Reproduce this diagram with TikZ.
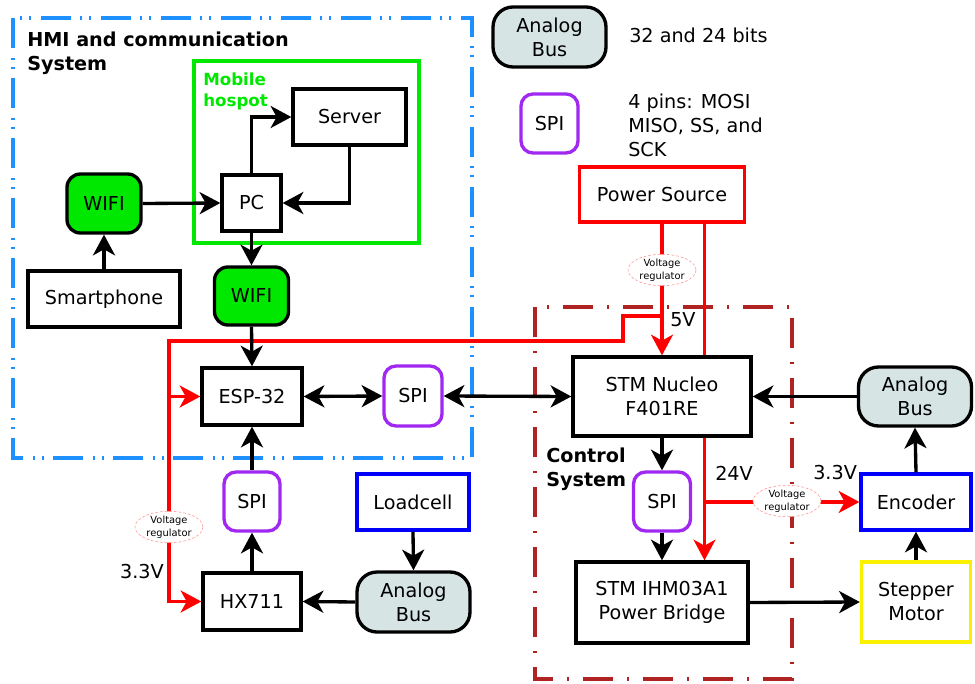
\documentclass[tikz,border=0pt]{standalone}
\usepackage{fontspec}
\setmainfont{DejaVu Sans}
\usetikzlibrary{arrows.meta,shapes.geometric,backgrounds}
\definecolor{hmiblue}{RGB}{30,144,255}
\definecolor{hotgreen}{RGB}{0,232,0}
\definecolor{ctrlred}{RGB}{175,35,35}
\definecolor{spipurple}{RGB}{160,40,240}
\definecolor{busfill}{RGB}{214,228,228}
\definecolor{regpink}{RGB}{255,140,140}
\definecolor{sensorblue}{RGB}{0,0,250}
\definecolor{motoryellow}{RGB}{250,240,0}
\begin{document}
\begin{tikzpicture}[x=0.75pt,y=-0.75pt,
	>={Stealth[length=15.5pt,width=16.5pt,inset=4.5pt]},
	every node/.style={font=\fontsize{14.4}{18}\selectfont},
	boxsize/.style 2 args={minimum width=#1*0.75pt,minimum height=#2*0.75pt},
	block/.style={draw,line width=2.5pt,fill=white,inner sep=0pt,align=center},
	bus/.style={block,fill=busfill,rounded corners=15pt},
	spi/.style={block,draw=spipurple,rounded corners=9pt},
	wifi/.style={block,fill=hotgreen,rounded corners=10pt},
	regulator/.style={ellipse,draw=regpink,dash pattern=on 2pt off 1.5pt,thin,fill=white,
		minimum width=51pt,minimum height=22pt,inner sep=0pt,align=center,
		font=\fontsize{7.4}{9.5}\selectfont},
	tag/.style={inner sep=0pt},
	title/.style={inner sep=0pt,anchor=north west,align=left,font=\fontsize{14.4}{18}\selectfont\bfseries},
	link/.style={->,line width=2.5pt},
	twoway/.style={<->,line width=2.5pt},
	supply/.style={->,red,line width=2.4pt},
	hmigroup/.style={hmiblue,line width=2.4pt,dash pattern=on 22.5pt off 7.5pt on 1.5pt off 5pt on 1.5pt off 7pt},
	hotspot/.style={hotgreen,line width=2.4pt},
	ctrlgroup/.style={ctrlred,line width=2.4pt,dash pattern=on 22.5pt off 10.5pt on 1.5pt off 10.5pt}]
	\useasboundingbox (0,0) rectangle (975,684);
	\node[title] (hmititle) at (27,31.5) {HMI and communication\\System};
	\node[title,hotgreen,font=\fontsize{12.5}{15.75}\selectfont\bfseries] (hotspottitle) at (203,72.5) {Mobile\\hospot};
	\node[title] (ctrltitle) at (546,448) {Control\\System};
	\node[bus,boxsize={113}{60}] (busleg) at (549.5,37) {Analog\\Bus};
	\node[spi,boxsize={57}{59}] (spileg) at (549.5,123.5) {SPI};
	\node[tag,anchor=west] (busnote) at (629,35) {32 and 24 bits};
	\node[tag,anchor=north west,align=left] (spinote) at (628,93.5) {4 pins: MOSI\\MISO, SS, and\\SCK};
	\node[block,boxsize={113}{56}] (server) at (349.5,117) {Server};
	\node[block,boxsize={59}{56}] (pc) at (251.5,203) {PC};
	\node[wifi,boxsize={74}{59}] (wifiA) at (104,203.5) {WIFI};
	\node[block,boxsize={152}{56}] (phone) at (104,299) {Smartphone};
	\node[wifi,boxsize={74}{58}] (wifiB) at (251.5,296) {WIFI};
	\node[block,boxsize={100}{57}] (esp) at (252,396.5) {ESP-32};
	\node[spi,boxsize={58}{60}] (spiA) at (413,396) {SPI};
	\node[spi,boxsize={56}{59}] (spiB) at (252,501.5) {SPI};
	\node[block,boxsize={98}{57}] (hx) at (252,601.5) {HX711};
	\node[block,draw=sensorblue,boxsize={112}{56}] (load) at (413,502) {Loadcell};
	\node[bus,boxsize={113}{60}] (busA) at (413.5,602) {Analog\\Bus};
	\node[block,draw=red,boxsize={165}{55}] (power) at (662,194.5) {Power Source};
	\node[block,boxsize={178}{79}] (nucleo) at (662,396.5) {STM Nucleo\\F401RE};
	\node[spi,boxsize={57}{59}] (spiC) at (662,501.5) {SPI};
	\node[block,boxsize={172}{81}] (bridge) at (662,602.5) {STM IHM03A1\\Power Bridge};
	\node[block,draw=motoryellow,boxsize={109}{80}] (stepper) at (916,602) {Stepper\\Motor};
	\node[block,draw=sensorblue,boxsize={110}{56}] (encoder) at (916,502) {Encoder};
	\node[bus,boxsize={113}{59}] (busB) at (915,396.5) {Analog\\Bus};
	\node[regulator] (regA) at (662,270) {Voltage\\regulator};
	\node[regulator] (regB) at (169,527) {Voltage\\regulator};
	\node[regulator] (regC) at (787,501) {Voltage\\regulator};
	\node[tag,anchor=west] (fivev) at (670,320) {5V};
	\node[tag,anchor=west] (tfv) at (715,473) {24V};
	\node[tag,anchor=west] (encv) at (813,473) {3.3V};
	\node[tag,anchor=east] (espv) at (164,572) {3.3V};
	\coordinate (rail) at (704.5,0);
	\coordinate (split) at (662,316);
	\coordinate (bend) at (623,341);
	\coordinate (feed) at (169,341);
	\draw[link] (pc.north) |- (server.west);
	\draw[link] (server.south) |- (pc.east);
	\draw[link] (wifiA.east) -- (pc.west);
	\draw[link] (phone.north) -- (wifiA.south);
	\draw[link] (pc.south) -- (wifiB.north);
	\draw[link] (wifiB.south) -- (esp.north);
	\draw[twoway] (esp.east) -- (spiA.west);
	\draw[twoway] (spiA.east) -- (nucleo.west);
	\draw[link] (hx.north) -- (spiB.south);
	\draw[link] (spiB.north) -- (esp.south);
	\draw[link] (load.south) -- (busA.north);
	\draw[link] (busA.west) -- (hx.east);
	\draw[link] (nucleo.south) -- (spiC.north);
	\draw[link] (spiC.south) -- (bridge.north);
	\draw[link] (bridge.east) -- (stepper.west);
	\draw[link] (stepper.north) -- (encoder.south);
	\draw[link] (encoder.north) -- (busB.south);
	\draw[link] (busB.west) -- (nucleo.east);
	\begin{scope}[on background layer]
		\draw[hmigroup] (13,18) rectangle (472,458);
		\draw[hotspot] (194,61) rectangle (419,243);
		\draw[ctrlgroup] (535,307) rectangle (792,679);
		\draw[supply] (power.south) -- (nucleo.north);
		\draw[supply] (power.south -| rail) -- (bridge.north -| rail);
		\draw[supply] (rail |- encoder.west) -- (encoder.west);
		\draw[supply] (split) -| (bend) -- (feed) |- (hx.west);
		\draw[supply] (feed |- esp.west) -- (esp.west);
	\end{scope}
\end{tikzpicture}
\end{document}
